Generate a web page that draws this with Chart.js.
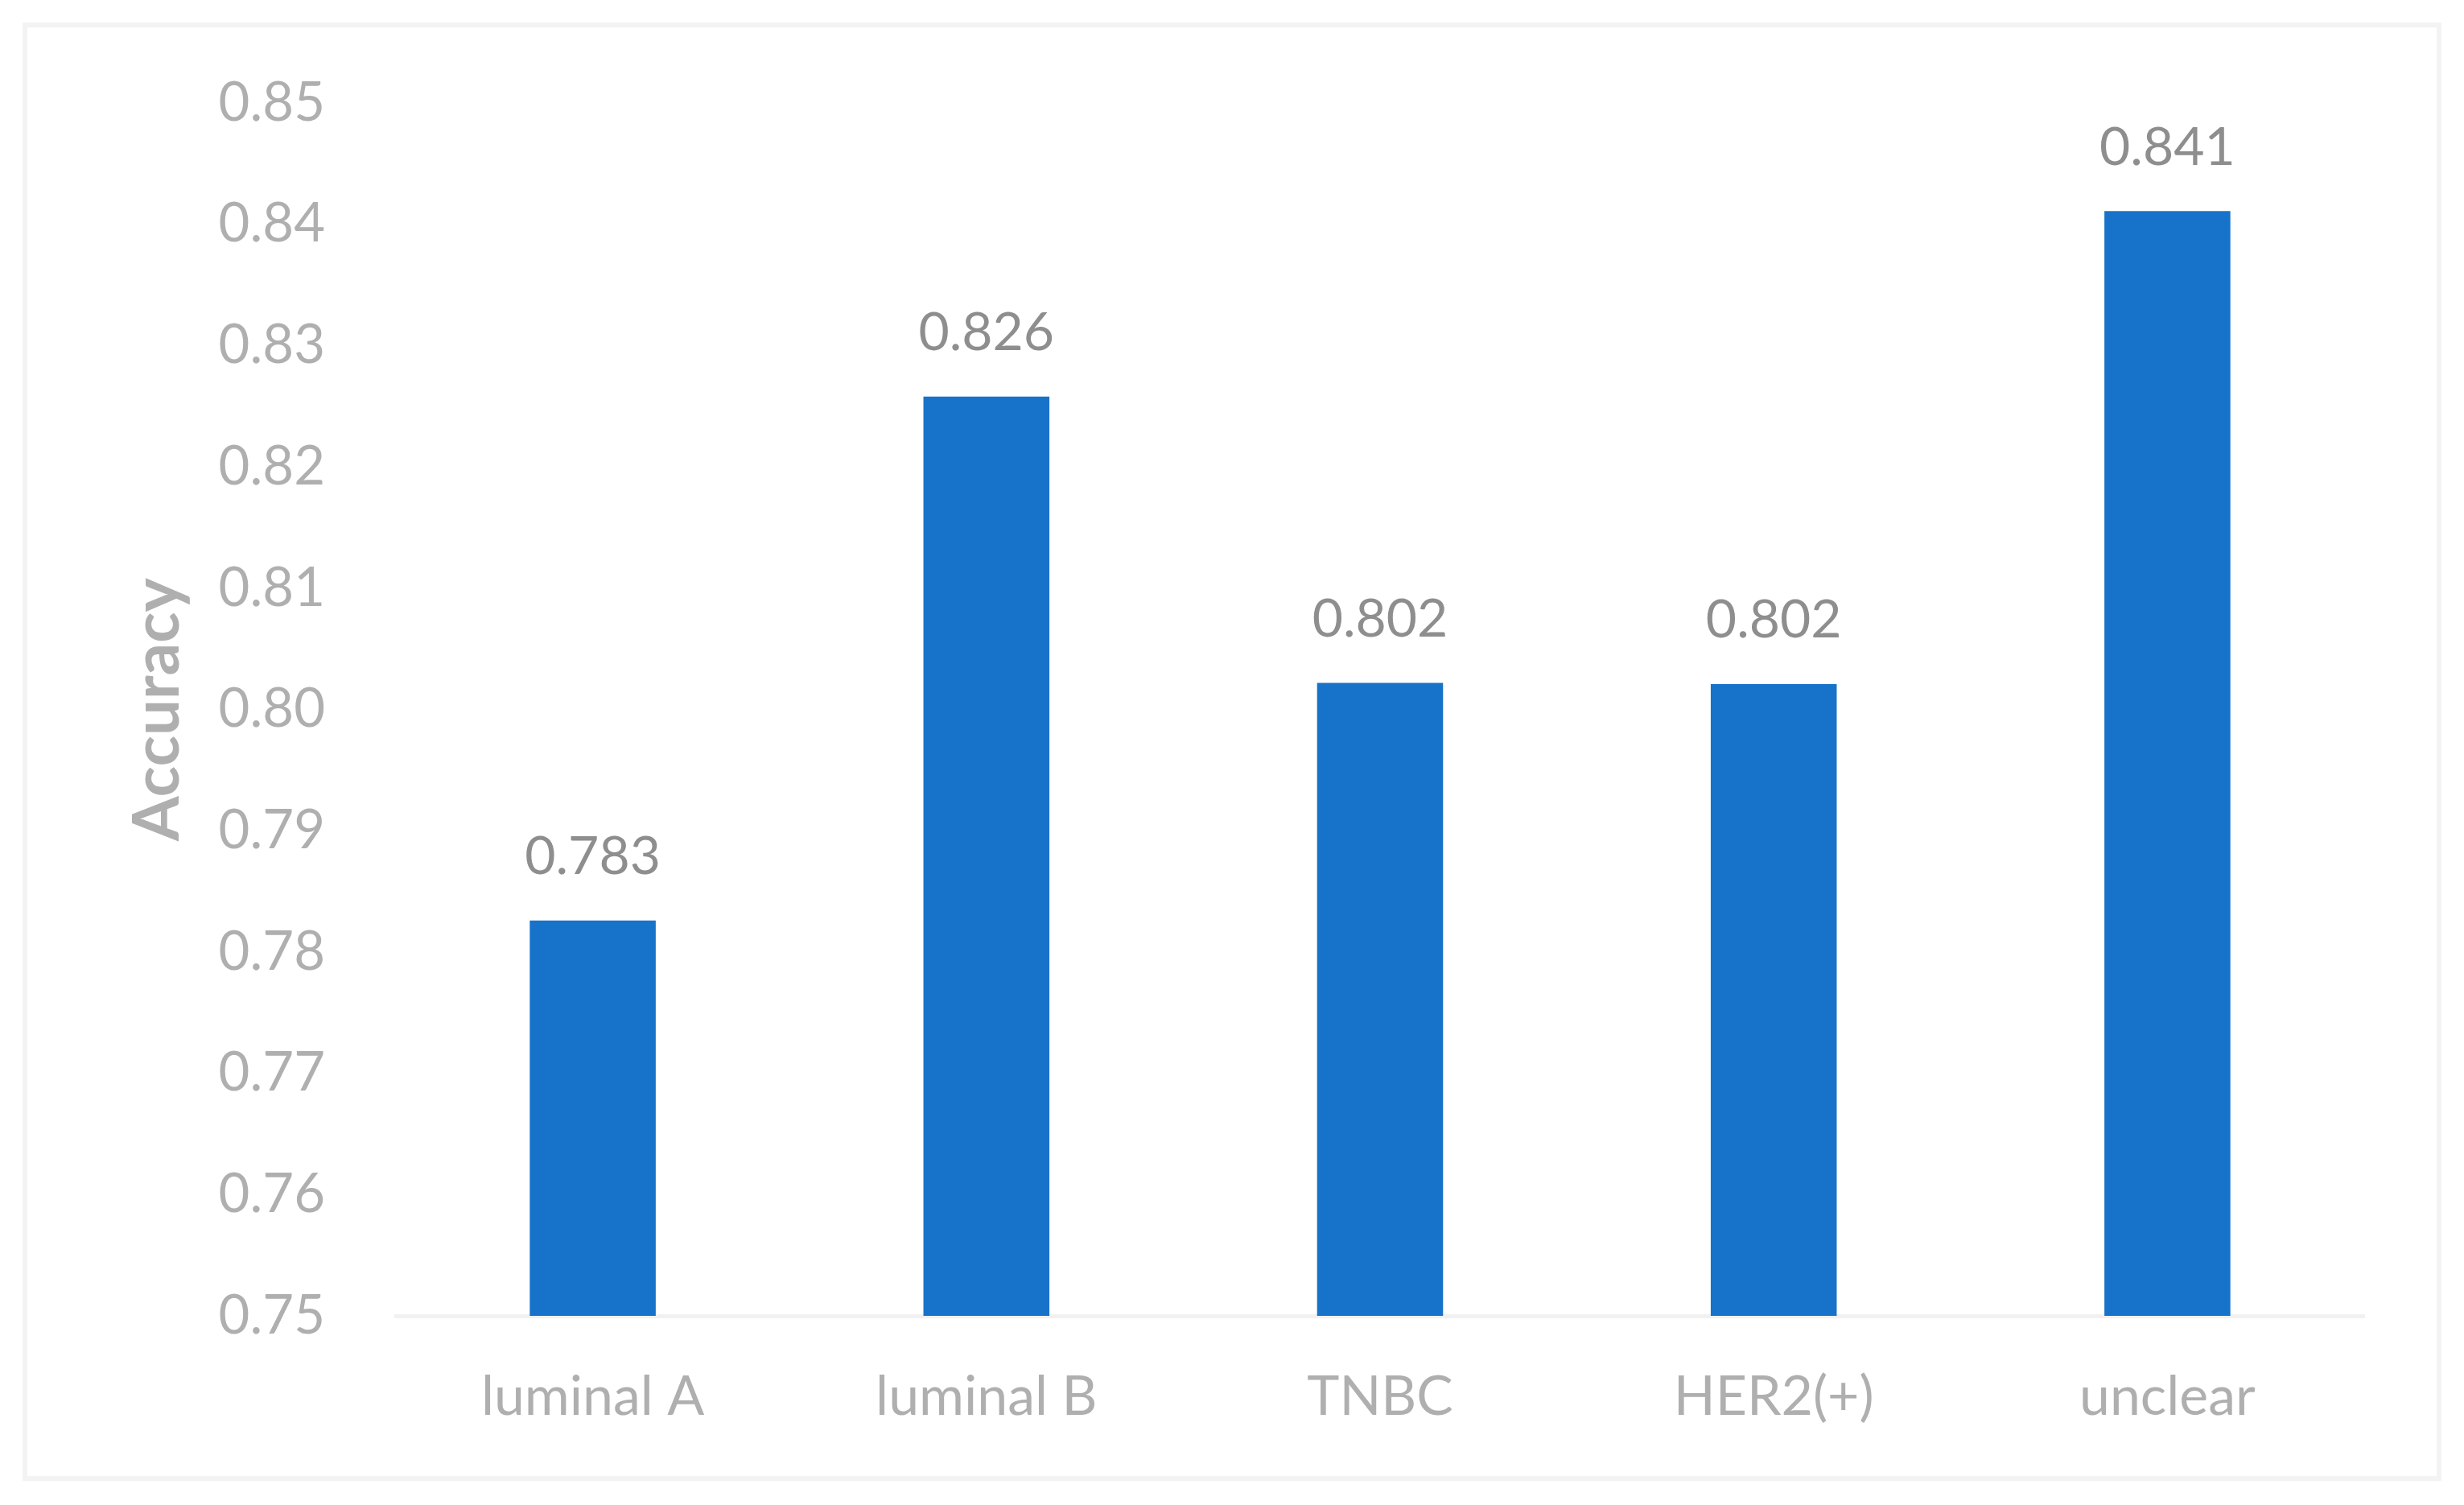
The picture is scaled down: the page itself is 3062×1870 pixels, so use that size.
<!DOCTYPE html>
<html>
<head>
<meta charset="utf-8">
<script src="https://cdn.jsdelivr.net/npm/chart.js@4.4.1/dist/chart.umd.min.js"></script>
<style>
  html, body { margin: 0; padding: 0; background: #ffffff; }
  #wrap { width: 3062px; height: 1870px; }
</style>
</head>
<body>
<div id="wrap"><canvas id="acc-chart" width="3062" height="1870"></canvas></div>
<script>
// Datos de la grafica
const categories = ['luminal A', 'luminal B', 'TNBC', 'HER2(+)', 'unclear'];
const accuracy = [0.7826, 0.8258, 0.8022, 0.8021, 0.8411];
const yTicks = [0.75, 0.76, 0.77, 0.78, 0.79, 0.80, 0.81, 0.82, 0.83, 0.84, 0.85];

const FONT = 'Lato, "Open Sans", sans-serif';

/**
 * Marco exterior gris claro
 */
const framePlugin = {
  id: 'frame',
  beforeDraw(chart) {
    const { ctx, width, height } = chart;
    ctx.save();
    ctx.fillStyle = '#ffffff';
    ctx.fillRect(0, 0, width, height);
    ctx.strokeStyle = '#f3f3f3';
    ctx.lineWidth = 6;
    ctx.strokeRect(31, 31, width - 62, height - 64);
    ctx.restore();
  }
};

/**
 * Etiquetas de valor encima de cada barra
 */
const valueLabels = {
  id: 'valueLabels',
  afterDatasetsDraw(chart) {
    const { ctx } = chart;
    const meta = chart.getDatasetMeta(0);
    ctx.save();
    ctx.font = '66px ' + FONT;
    ctx.fillStyle = '#8e8e8e';
    ctx.textAlign = 'center';
    ctx.textBaseline = 'bottom';
    meta.data.forEach((bar, i) => {
      ctx.fillText(accuracy[i].toFixed(3), bar.x, bar.y - 46);
    });
    ctx.restore();
  }
};

new Chart(document.getElementById('acc-chart'), {
  type: 'bar',
  data: {
    labels: categories,
    datasets: [{
      label: 'Accuracy',
      data: accuracy,
      backgroundColor: '#1773c9',
      barPercentage: 0.32,
      categoryPercentage: 1.0
    }]
  },
  options: {
    responsive: false,
    animation: false,
    layout: { padding: { top: 119, right: 124, bottom: 0, left: 0 } },
    plugins: {
      legend: { display: false },
      tooltip: { enabled: false }
    },
    scales: {
      x: {
        grid: { display: false, drawTicks: false },
        border: { display: true, color: '#f1f1f1', width: 5 },
        ticks: {
          color: '#afafaf',
          font: { family: FONT, size: 68 },
          padding: 60,
          maxRotation: 0
        },
        afterFit: (scale) => { scale.height = 235; }
      },
      y: {
        min: 0.75,
        max: 0.85,
        afterBuildTicks: (scale) => { scale.ticks = yTicks.map(v => ({ value: v })); },
        grid: { display: false, drawTicks: false },
        border: { display: false },
        ticks: {
          color: '#afafaf',
          font: { family: FONT, size: 67 },
          padding: 88,
          callback: (val) => val.toFixed(2)
        },
        title: {
          display: true,
          text: 'Accuracy',
          color: '#afafaf',
          font: { family: FONT, size: 80, weight: 'bold' },
          padding: { top: 148, bottom: 0 }
        },
        afterFit: (scale) => { scale.width = 492; }
      }
    }
  },
  plugins: [framePlugin, valueLabels]
});
</script>
</body>
</html>
